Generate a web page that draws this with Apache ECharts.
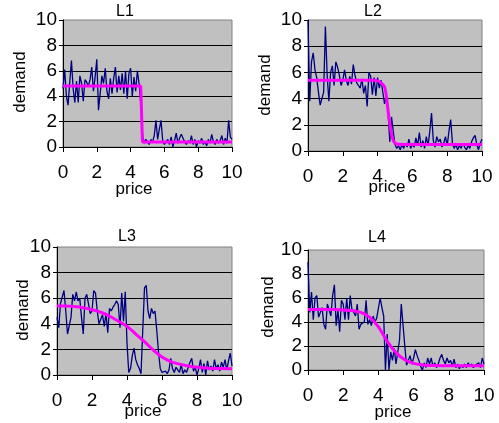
<!DOCTYPE html>
<html>
<head>
<meta charset="utf-8">
<script src="https://cdn.jsdelivr.net/npm/echarts@6/dist/echarts.min.js"></script>
<style>
html, body { margin: 0; padding: 0; background: #fff; }
#main { width: 499px; height: 423px; }
</style>
</head>
<body>
<div id="main"></div>
<script>
// price grid of the raw demand samples
var price = [0, 0.1, 0.2, 0.3, 0.4, 0.5, 0.6, 0.7, 0.8, 0.9,
	1, 1.1, 1.2, 1.3, 1.4, 1.5, 1.6, 1.7, 1.8, 1.9,
	2, 2.1, 2.2, 2.3, 2.4, 2.5, 2.6, 2.7, 2.8, 2.9,
	3, 3.1, 3.2, 3.3, 3.4, 3.5, 3.6, 3.7, 3.8, 3.9,
	4, 4.1, 4.2, 4.3, 4.4, 4.5, 4.6, 4.7, 4.8, 4.9,
	5, 5.1, 5.2, 5.3, 5.4, 5.5, 5.6, 5.7, 5.8, 5.9,
	6, 6.1, 6.2, 6.3, 6.4, 6.5, 6.6, 6.7, 6.8, 6.9,
	7, 7.1, 7.2, 7.3, 7.4, 7.5, 7.6, 7.7, 7.8, 7.9,
	8, 8.1, 8.2, 8.3, 8.4, 8.5, 8.6, 8.7, 8.8, 8.9,
	9, 9.1, 9.2, 9.3, 9.4, 9.5, 9.6, 9.7, 9.8, 9.9, 10];

var demandL1 = [4.6, 6.1, 4.0, 3.3, 5.1, 6.8, 4.6, 3.5, 5.2, 3.5,
	5.6, 5.0, 3.6, 5.3, 5.1, 4.8, 5.3, 6.3, 4.4, 5.5,
	6.9, 2.9, 4.2, 5.6, 5.0, 6.2, 4.4, 3.8, 5.4, 4.2,
	5.4, 6.3, 4.3, 5.6, 4.5, 5.8, 4.2, 6.0, 3.8, 5.8,
	6.2, 4.0, 5.5, 4.4, 6.0, 5.0, 3.4, 1.0, 0.3, 0.6,
	0.4, 0.2, 0.6, 0.4, 0.9, 2.1, 0.6, 1.4, 2.1, 0.5,
	0.2, 0.3, 0.6, 0.2, 0.8, 0.0, 0.5, 1.1, 0.3, 0.7,
	1.0, 1.1, 0.4, 0.2, 0.5, 0.3, 0.9, 0.2, 0.6, 0.0,
	0.5, 0.3, 0.7, 0.2, 0.4, 0.1, 0.6, 0.3, 1.0, 0.4,
	0.2, 0.6, 0.3, 0.5, 0.9, 0.2, 0.7, 0.3, 2.1, 0.8, 0.6];

var demandL2 = [10.0, 3.8, 6.8, 7.5, 6.2, 5.6, 4.5, 3.5, 3.6, 4.5,
	9.5, 5.8, 3.8, 6.0, 6.5, 5.0, 6.8, 6.4, 5.8, 5.0,
	5.4, 6.2, 5.4, 5.0, 5.7, 5.1, 6.6, 5.8, 5.2, 5.0,
	4.8, 5.5, 4.4, 5.0, 3.4, 6.0, 5.7, 4.3, 5.6, 4.2,
	5.6, 4.8, 5.4, 4.5, 3.6, 4.2, 3.0, 0.7, 2.6, 1.5,
	0.5, 0.2, 0.4, 0.1, 0.5, 0.2, 0.6, 0.3, 0.9, 0.2,
	0.5, 0.3, 1.0, 0.4, 1.4, 0.3, 0.8, 0.2, 1.1, 0.4,
	1.5, 2.9, 0.8, 0.3, 1.1, 0.7, 0.9, 0.3, 0.6, 1.1,
	0.4, 1.5, 2.4, 0.6, 0.2, 0.5, 0.1, 0.4, 0.2, 0.6,
	0.3, 0.1, 0.4, 0.2, 0.7, 1.0, 1.2, 0.5, 0.1, 0.6, 0.9];

var demandL3 = [4.5, 3.7, 5.6, 5.6, 6.6, 5.0, 3.2, 3.2, 4.5, 6.3,
	5.8, 6.5, 5.8, 6.0, 4.5, 3.2, 6.0, 6.3, 6.2, 4.8,
	5.0, 6.6, 6.4, 5.0, 4.0, 3.9, 4.7, 3.8, 4.8, 3.3,
	5.2, 5.0, 5.3, 5.5, 5.8, 5.5, 3.7, 6.4, 4.2, 6.5,
	2.5, 0.2, 0.5, 1.5, 2.1, 1.2, 0.8, 0.5, 0.1, 3.5,
	6.8, 7.0, 5.0, 4.4, 5.2, 4.8, 5.0, 3.5, 1.8, 0.5,
	0.2, 0.1, 0.3, 0.1, 0.4, 1.3, 0.5, 0.2, 0.6, 0.4,
	0.2, 0.8, 0.1, 0.4, 0.2, 0.6, 1.0, 1.3, 0.3, 0.6,
	0.0, 0.5, 1.2, 0.2, 0.9, 0.0, 1.1, 0.4, 0.7, 0.3,
	1.2, 0.5, 0.8, 0.3, 1.0, 0.6, 1.2, 0.4, 1.1, 1.7, 0.7];

var demandL4 = [9.0, 4.8, 6.5, 4.2, 6.0, 6.2, 4.4, 4.8, 5.2, 3.8,
	3.4, 5.5, 5.6, 4.5, 6.2, 7.1, 3.7, 5.0, 3.2, 5.8,
	5.5, 4.2, 6.0, 4.2, 6.2, 5.0, 4.8, 4.5, 5.5, 3.4,
	3.8, 3.8, 4.0, 5.8, 3.8, 4.2, 3.7, 4.5, 4.0, 4.3,
	4.2, 6.0, 5.2, 4.5, 0.0, 3.0, 0.0, 1.5, 0.8, 1.8,
	0.5, 1.5, 2.5, 5.5, 5.4, 2.0, 0.4, 0.8, 1.2, 0.5,
	1.0, 1.7, 1.2, 0.8, 0.3, 0.0, 0.6, 0.2, 1.0, 0.5,
	1.0, 0.3, 0.6, 0.2, 0.5, 1.0, 1.3, 0.8, 0.5, 1.0,
	0.6, 0.8, 0.3, 0.9, 0.2, 0.5, 0.1, 0.4, 0.2, 0.5,
	0.2, 0.6, 0.3, 0.5, 0.2, 0.4, 0.3, 0.6, 0.2, 1.0, 0.5];

// fitted curves
var fitPriceL1 = [0, 4.6, 4.7, 10];
var fitL1 = [4.8, 4.8, 0.4, 0.4];
var fitPriceL2 = [0, 1, 2, 3, 3.8, 4.0, 4.2, 4.4, 4.5, 4.6, 4.7, 4.8, 4.9, 5.0, 5.2, 6, 7, 8, 9, 10];
var fitL2 = [5.4, 5.4, 5.4, 5.4, 5.4, 5.35, 5.2, 4.9, 4.2, 3.1, 2.1, 1.3, 0.8, 0.6, 0.52, 0.5, 0.5, 0.5, 0.5, 0.5];
var fitPriceL3 = [0, 0.5, 1, 1.5, 2, 2.5, 3, 3.5, 4, 4.5, 5, 5.5, 6, 6.5, 7, 7.5, 8, 8.5, 9, 9.5, 10];
var fitL3 = [5.4, 5.4, 5.35, 5.25, 5.1, 4.9, 4.6, 4.2, 3.8, 3.2, 2.6, 1.95, 1.4, 1.05, 0.85, 0.7, 0.6, 0.55, 0.5, 0.5, 0.48];
var fitPriceL4 = [0, 0.5, 1, 1.5, 2, 2.5, 3, 3.5, 4, 4.5, 5, 5.5, 6, 6.5, 7, 8, 9, 10];
var fitL4 = [5.05, 5.05, 5.05, 5.05, 5.0, 4.95, 4.8, 4.4, 3.6, 2.4, 1.45, 0.85, 0.55, 0.42, 0.38, 0.35, 0.35, 0.35];

var yTicks = [0, 2, 4, 6, 8, 10];
var xTicks = [0, 2, 4, 6, 8, 10];

var panels = [
	{ name: 'L1', demand: demandL1, fitX: fitPriceL1, fitY: fitL1, smooth: false,
		grid: { left: 63, top: 20, width: 169, height: 127 },
		title: [125, 12], ylab: [20, 82], xlab: [134, 189] },
	{ name: 'L2', demand: demandL2, fitX: fitPriceL2, fitY: fitL2, smooth: 0.3,
		grid: { left: 308, top: 20, width: 174, height: 131 },
		title: [373, 12], ylab: [265, 85], xlab: [387, 187] },
	{ name: 'L3', demand: demandL3, fitX: fitPriceL3, fitY: fitL3, smooth: 0.4,
		grid: { left: 57, top: 247, width: 175, height: 128 },
		title: [127, 237], ylab: [23, 310], xlab: [143, 411] },
	{ name: 'L4', demand: demandL4, fitX: fitPriceL4, fitY: fitL4, smooth: 0.4,
		grid: { left: 308, top: 250, width: 176, height: 120 },
		title: [377, 238], ylab: [268, 307], xlab: [393, 412] }
];

var FONT = '"Liberation Sans", Arial, sans-serif';

function pairs(xs, ys) {
	var out = [];
	for (var i = 0; i < ys.length; i++) {
		out.push([xs[i], ys[i]]);
	}
	return out;
}

var option = {
	animation: false,
	backgroundColor: '#ffffff',
	grid: [], xAxis: [], yAxis: [], series: [], graphic: []
};

panels.forEach(function (p, idx) {
	option.grid.push(Object.assign({
		show: true,
		backgroundColor: '#c0c0c0',
		borderColor: '#808080',
		borderWidth: 1
	}, p.grid));
	option.xAxis.push({
		type: 'value', gridIndex: idx,
		min: xTicks[0], max: xTicks[xTicks.length - 1], interval: 2,
		axisLine: { show: true, onZero: false, lineStyle: { color: '#000', width: 1 } },
		axisTick: { show: true, length: 5, lineStyle: { color: '#000' } },
		axisLabel: { fontFamily: FONT, fontSize: 19, color: '#000', margin: 16 },
		splitLine: { show: false }
	});
	option.yAxis.push({
		type: 'value', gridIndex: idx,
		min: yTicks[0], max: yTicks[yTicks.length - 1], interval: 2,
		axisLine: { show: true, onZero: false, lineStyle: { color: '#000', width: 1 } },
		axisTick: { show: true, length: 4, lineStyle: { color: '#000' } },
		axisLabel: { fontFamily: FONT, fontSize: 19, color: '#000', margin: 6 },
		splitLine: { show: true, showMinLine: false, showMaxLine: false, lineStyle: { color: '#000', width: 1 } }
	});
	option.series.push({
		type: 'line', xAxisIndex: idx, yAxisIndex: idx,
		data: pairs(price, p.demand),
		showSymbol: false, symbol: 'none',
		lineStyle: { color: '#000080', width: 1.3 }
	});
	option.series.push({
		type: 'line', xAxisIndex: idx, yAxisIndex: idx,
		data: pairs(p.fitX, p.fitY),
		showSymbol: false, symbol: 'none', smooth: p.smooth,
		lineStyle: { color: '#ff00ff', width: 3 }
	});
	// panel title and axis names
	option.graphic.push({
		type: 'text', x: p.title[0], y: p.title[1],
		style: { text: p.name, font: '16px ' + FONT, fill: '#000', align: 'center', verticalAlign: 'middle' }
	});
	option.graphic.push({
		type: 'text', x: p.ylab[0], y: p.ylab[1], rotation: Math.PI / 2,
		style: { text: 'demand', font: '17px ' + FONT, fill: '#000', align: 'center', verticalAlign: 'middle' }
	});
	option.graphic.push({
		type: 'text', x: p.xlab[0], y: p.xlab[1],
		style: { text: 'price', font: '17px ' + FONT, fill: '#000', align: 'center', verticalAlign: 'middle' }
	});
});

var chart = echarts.init(document.getElementById('main'));
chart.setOption(option);
</script>
</body>
</html>
